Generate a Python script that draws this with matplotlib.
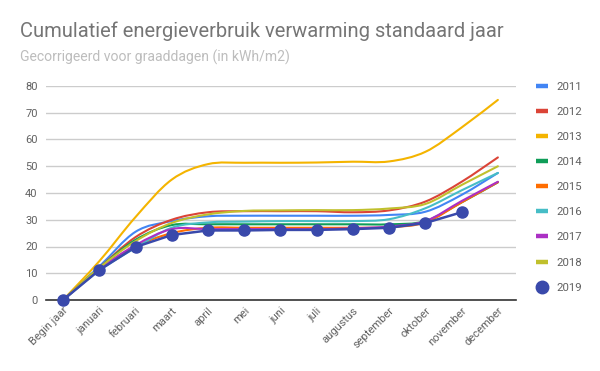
import matplotlib
matplotlib.use('Agg')
import matplotlib.pyplot as plt
from matplotlib.path import Path
from matplotlib.patches import PathPatch
from matplotlib.lines import Line2D
import numpy as np

plt.rcParams['font.family'] = ['Roboto', 'DejaVu Sans']

# categories
months = ['Begin jaar', 'januari', 'februari', 'maart', 'april', 'mei', 'juni',
          'juli', 'augustus', 'september', 'oktober', 'november', 'december']

# cumulative kWh/m2 per year
v2011 = [0, 12.5, 25.5, 29.5, 31.3, 31.5, 31.5, 31.5, 31.5, 31.8, 33.0, 39.3, 47.5]
v2012 = [0, 12.0, 23.5, 30.0, 32.8, 33.2, 33.2, 33.2, 32.8, 33.5, 36.8, 44.2, 53.3]
v2013 = [0, 14.5, 31.0, 45.0, 50.8, 51.3, 51.3, 51.4, 51.7, 51.8, 55.4, 64.5, 74.8]
v2014 = [0, 12.0, 22.5, 28.0, 28.3, 28.3, 28.3, 28.3, 28.3, 28.3, 29.5, 36.5, 44.0]
v2015 = [0, 11.5, 20.0, 25.0, 27.0, 27.0, 27.0, 27.0, 27.0, 27.2, 29.0, 36.5, 44.0]
v2016 = [0, 11.0, 19.5, 27.0, 29.0, 29.3, 29.5, 29.5, 29.5, 30.2, 34.3, 41.0, 47.5]
v2017 = [0, 11.5, 20.5, 26.5, 26.5, 26.5, 26.5, 26.5, 26.8, 27.5, 29.5, 37.0, 44.2]
v2018 = [0, 12.0, 22.0, 28.8, 32.0, 33.3, 33.5, 33.6, 33.6, 34.2, 35.9, 43.0, 50.0]
v2019 = [0, 11.2, 19.8, 24.3, 26.0, 26.0, 26.2, 26.2, 26.5, 27.0, 28.8, 32.8]

years = ['2011', '2012', '2013', '2014', '2015', '2016', '2017', '2018']
series = [v2011, v2012, v2013, v2014, v2015, v2016, v2017, v2018]
colors = ['#4285f4', '#db4437', '#f4b400', '#0f9d58', '#ff6d00',
          '#46bdc6', '#ab30c4', '#c0c02c']
col2019 = '#3949ab'


def smooth_path(xs, ys):
    # cubic bezier through the points (like the 'function' curve type)
    pts = np.column_stack([xs, ys]).astype(float)
    n = len(pts)
    verts = [pts[0]]
    codes = [Path.MOVETO]
    for i in range(n - 1):
        p0 = pts[i - 1] if i > 0 else pts[i]
        p1 = pts[i]
        p2 = pts[i + 1]
        p3 = pts[i + 2] if i + 2 < n else pts[i + 1]
        verts += [p1 + (p2 - p0) / 6.0, p2 - (p3 - p1) / 6.0, p2]
        codes += [Path.CURVE4] * 3
    return Path(verts, codes)


fig = plt.figure(figsize=(6, 3.71), dpi=100)
ax = fig.add_axes([46/600, 1 - 300/371, (516 - 46)/600, (300 - 86)/371])

x = np.arange(len(months))
for vals, c in zip(series, colors):
    p = smooth_path(x[:len(vals)], vals)
    ax.add_patch(PathPatch(p, fill=False, edgecolor=c, lw=1.5, capstyle='round', zorder=3))

ax.plot(x[:len(v2019)], v2019, color=col2019, lw=1.8, marker='o', ms=8, zorder=4,
        clip_on=False)

ax.set_xlim(-0.47, 12.5)
ax.set_ylim(0, 80)
ax.set_yticks(range(0, 81, 10))
ax.set_xticks(x)
ax.set_xticklabels(months, rotation=45, ha='right', rotation_mode='anchor')
ax.tick_params(axis='both', length=0, colors='#616161', labelsize=8)
ax.tick_params(axis='y', pad=6)
ax.tick_params(axis='x', pad=4)
ax.grid(axis='y', color='#cccccc', lw=1)
ax.set_axisbelow(True)
for s in ['top', 'right', 'left']:
    ax.spines[s].set_visible(False)
ax.spines['bottom'].set_color('#333333')
ax.spines['bottom'].set_linewidth(1.2)
ax.spines['bottom'].set_zorder(2.5)

handles = [Line2D([], [], color=c, lw=3.2, solid_capstyle='butt') for c in colors]
handles.append(Line2D([], [], color=col2019, marker='o', ls='none', ms=9))
leg = fig.legend(handles, years + ['2019'], loc='upper left',
                 bbox_to_anchor=(531/600, 1 - 77/371), frameon=False,
                 fontsize=8.2, handlelength=1.05, handletextpad=0.75,
                 labelspacing=1.33, borderaxespad=0)
for t in leg.get_texts():
    t.set_color('#616161')

fig.text(20/600, 1 - 37/371, 'Cumulatief energieverbruik verwarming standaard jaar',
         fontsize=14.5, color='#757575', va='baseline')
fig.text(20/600, 1 - 62/371, 'Gecorrigeerd voor graaddagen (in kWh/m2)',
         fontsize=10.1, color='#bdbdbd', va='baseline')

fig.savefig('out.png', dpi=100)
